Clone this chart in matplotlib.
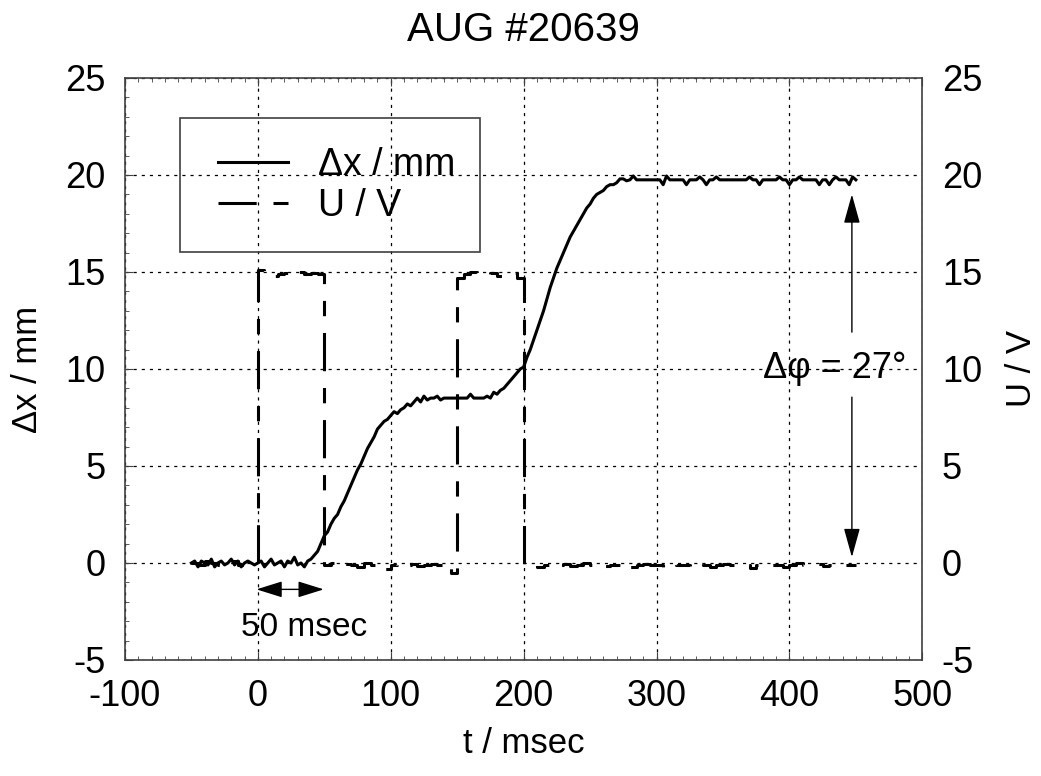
import matplotlib
matplotlib.use('Agg')
import matplotlib.pyplot as plt
from matplotlib.patches import Rectangle
import numpy as np

plt.rcParams['font.family'] = ['Liberation Sans', 'DejaVu Sans']
plt.rcParams['axes.unicode_minus'] = False

# position signal, one value every 2.5 msec from -50 to 450
t_start, t_step = -50.0, 2.5
dx_mm = [
    0.0, 0.1, -0.2, 0.1, 0.0, -0.1, 0.2, -0.2, 0.0, 0.1,
    -0.1, 0.0, 0.2, -0.1, 0.1, -0.2, 0.0, 0.1, 0.0, -0.1,
    0.0, 0.1, -0.2, 0.0, 0.2, -0.1, 0.0, 0.1, -0.2, 0.1,
    0.0, 0.3, -0.1, 0.0, -0.2, 0.1, 0.2, 0.4, 0.6, 1.0,
    1.4, 1.6, 2.0, 2.3, 2.5, 2.9, 3.2, 3.6, 4.0, 4.4,
    4.8, 5.1, 5.5, 5.9, 6.2, 6.5, 6.9, 7.1, 7.3, 7.4,
    7.6, 7.8, 7.7, 7.9, 8.0, 8.2, 8.1, 8.3, 8.5, 8.3,
    8.6, 8.4, 8.5, 8.5, 8.6, 8.4, 8.5, 8.5, 8.5, 8.5,
    8.5, 8.5, 8.5, 8.5, 8.7, 8.5, 8.5, 8.5, 8.5, 8.6,
    8.5, 8.8, 8.7, 8.9, 9.0, 9.2, 9.4, 9.6, 9.8, 10.0,
    10.1, 10.6, 11.0, 11.5, 12.0, 12.5, 13.0, 13.6, 14.2, 14.7,
    15.2, 15.6, 16.0, 16.4, 16.8, 17.1, 17.4, 17.7, 18.0, 18.3,
    18.5, 18.8, 19.0, 19.1, 19.2, 19.4, 19.5, 19.5, 19.6, 19.8,
    19.8, 19.7, 19.75, 19.95, 19.75, 19.75, 19.75, 19.75, 19.75, 19.75,
    19.75, 19.75, 19.5, 19.95, 19.75, 19.75, 19.75, 19.75, 19.75, 19.5,
    19.75, 19.75, 19.75, 19.9, 19.75, 19.5, 19.75, 19.75, 19.9, 19.75,
    19.75, 19.75, 19.75, 19.75, 19.75, 19.75, 19.75, 19.75, 19.9, 19.75,
    19.75, 19.5, 19.75, 19.75, 19.75, 19.75, 19.75, 19.9, 19.75, 19.75,
    19.5, 19.75, 19.75, 19.9, 19.75, 19.75, 19.75, 19.75, 19.75, 19.5,
    19.75, 19.75, 19.5, 19.75, 19.9, 19.75, 19.75, 19.75, 19.5, 19.9,
    19.75,
]

# coil voltage, one value every 5 msec from -50 to 450 (held until next sample)
u_step = 5.0
u_volt = [
    0.0, -0.1, 0.1, 0.0, -0.1, 0.0, 0.1, -0.1, 0.0, 0.0,
    15.1, 14.9, 14.8, 14.9, 14.95, 14.85, 15.0, 14.9, 14.95, 14.9,
    -0.1, 0.0, -0.15, -0.05, -0.1, -0.2, 0.0, -0.1, -0.05, -0.3,
    -0.1, 0.0, -0.1, -0.05, -0.15, -0.1, -0.05, -0.1, 0.0, -0.5,
    14.7, 14.9, 15.0, 14.85, 14.9, 14.95, 14.8, 14.9, 14.95, 14.7,
    -0.1, -0.05, -0.2, -0.1, 0.0, -0.1, -0.05, -0.15, -0.1, 0.0,
    -0.1, -0.05, -0.15, -0.1, -0.1, 0.0, -0.2, -0.1, -0.05, -0.1,
    -0.1, -0.2, -0.05, -0.1, -0.1, -0.15, 0.0, -0.1, -0.2, -0.1,
    -0.05, -0.1, -0.15, -0.1, -0.25, -0.1, -0.05, -0.1, -0.1, -0.2,
    -0.1, 0.0, -0.1, -0.1, -0.05, -0.15, -0.1, -0.05, -0.1, -0.1,
    -0.1,
]

title = 'AUG #20639'
phase_text = 'Δφ = 27°'
pulse_text = '50 msec'

t_dx = t_start + t_step * np.arange(len(dx_mm))
t_u = t_start + u_step * np.arange(len(u_volt))

fig = plt.figure(figsize=(10.41, 7.76), dpi=100)
ax = fig.add_axes([0.120, 0.1495, 0.766, 0.750])

ax.plot(t_dx, dx_mm, color='black', lw=2.2, label='Δx / mm')
ax.plot(t_u, u_volt, color='black', lw=2.2, drawstyle='steps-post',
        linestyle=(0, (12.5, 5.5, 5.0, 5.5)), label='U / V')

ax.set_xlim(-100, 500)
ax.set_ylim(-5, 25)
ax.set_xticks(np.arange(-100, 501, 100))
ax.set_yticks(np.arange(-5, 26, 5))
ax.set_xticks(np.arange(-100, 501, 10), minor=True)
ax.set_yticks(np.arange(-5, 26, 1), minor=True)
ax.grid(True, which='major', color='black', lw=0.9, linestyle=(0, (2.5, 4)))
ax.tick_params(which='both', direction='in', top=True, right=True,
               labelsize=26, pad=14, color='#404040')
ax.tick_params(which='major', length=6)
ax.tick_params(which='minor', length=3)
for s in ax.spines.values():
    s.set_color('#404040')
    s.set_linewidth(1.2)

ax.set_xlabel('t / msec', fontsize=25)
ax.xaxis.set_label_coords(0.5, -0.115)
ax.set_ylabel('Δx / mm', fontsize=25)
ax.yaxis.set_label_coords(-0.102, 0.5)

ax2 = ax.twinx()
ax2.set_ylim(-5, 25)
ax2.set_yticks(np.arange(-5, 26, 5))
ax2.tick_params(direction='in', length=0, labelsize=26, pad=14)
ax2.set_ylabel('U / V', fontsize=25, rotation=90)
ax2.yaxis.set_label_coords(1.104, 0.5)
for s in ax2.spines.values():
    s.set_visible(False)

# legend entries without frame, box drawn separately
ax.legend(loc='upper left', bbox_to_anchor=(0.1167, 0.881), borderaxespad=0,
          borderpad=0, fontsize=27, frameon=False, handlelength=1.87,
          handletextpad=0.8, labelspacing=0.12)
ax.add_patch(Rectangle((0.069, 0.701), 0.376, 0.230, transform=ax.transAxes,
                       facecolor='none', edgecolor='#404040', lw=1.2, zorder=5))

# phase difference arrow with text in the gap
ax.annotate('', xy=(447, 19.0), xytext=(447, 11.9),
            arrowprops=dict(arrowstyle='-|>,head_length=0.9,head_width=0.25',
                            mutation_scale=20, lw=1, color='black', shrinkA=0, shrinkB=0))
ax.annotate('', xy=(447, 0.3), xytext=(447, 8.55),
            arrowprops=dict(arrowstyle='-|>,head_length=0.9,head_width=0.25',
                            mutation_scale=20, lw=1, color='black', shrinkA=0, shrinkB=0))
ax.text(434, 10.05, phase_text, fontsize=26, ha='center', va='center')

# pulse length arrow
ax.annotate('', xy=(-1, -1.36), xytext=(49.6, -1.36),
            arrowprops=dict(arrowstyle='<|-|>,head_length=0.8,head_width=0.25',
                            mutation_scale=20, lw=1, color='black', shrinkA=0, shrinkB=0))
ax.text(35, -3.35, pulse_text, fontsize=24, ha='center', va='center')

fig.text(0.503, 0.961, title, fontsize=29, ha='center', va='center')

fig.savefig('out.png', dpi=100)
